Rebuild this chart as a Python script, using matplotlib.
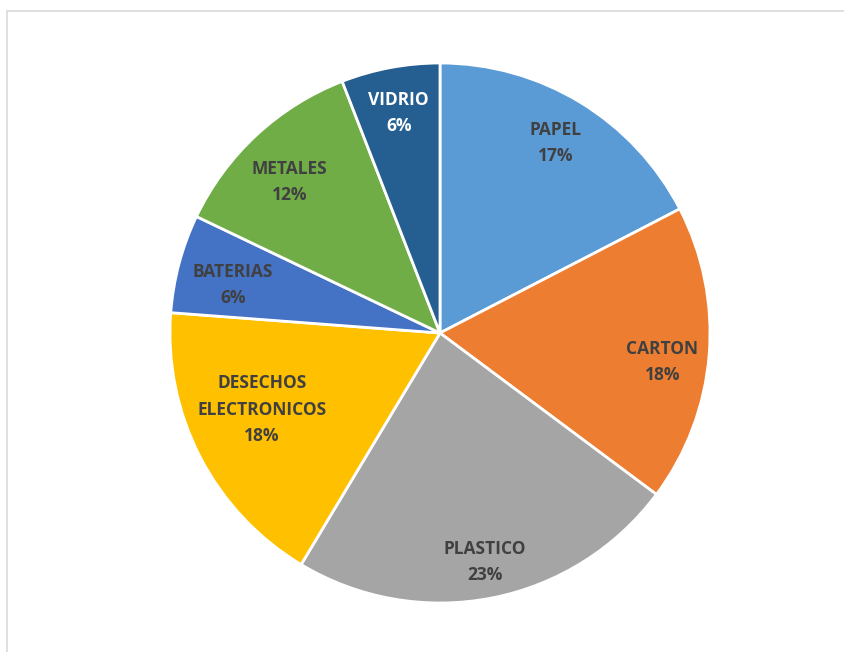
import matplotlib.pyplot as plt
from matplotlib.patches import Rectangle
import numpy as np

categories = ['PAPEL', 'CARTON', 'PLASTICO', 'DESECHOS\nELECTRONICOS', 'BATERIAS', 'METALES', 'VIDRIO']
values = [17.4, 17.8, 23.4, 17.6, 5.9, 12.0, 5.9]
colors = ['#5B9BD5', '#ED7D31', '#A5A5A5', '#FFC000', '#4472C4', '#70AD47', '#255E91']
text_colors = ['#404040'] * 6 + ['white']
# label placement: fraction of radius and angular nudge (deg, clockwise)
label_r = [0.823, 0.83, 0.865, 0.718, 0.787, 0.79, 0.83]
label_shift = [0, 2.7, 0, 4, -1.9, -2, 0]

W, H = 845, 652
fig = plt.figure(figsize=(W / 100, H / 100), dpi=100)
fig.patches.append(Rectangle((7.5 / W, -0.1), 1.1, (H - 10.5) / H + 0.1,
                             transform=fig.transFigure, fill=False,
                             edgecolor='#D9D9D9', linewidth=1.2))

cx, cy, r = 440, 333, 270
ax = fig.add_axes([(cx - r) / W, (H - cy - r) / H, 2 * r / W, 2 * r / H])
wedges, _ = ax.pie(values, colors=colors, startangle=90, counterclock=False,
                   wedgeprops=dict(edgecolor='white', linewidth=2))
ax.set_xlim(-1, 1)
ax.set_ylim(-1, 1)
ax.set_aspect('equal')

total = sum(values)
for w, name, v, tc, lr, sh in zip(wedges, categories, values, text_colors, label_r, label_shift):
    ang = np.deg2rad((w.theta1 + w.theta2) / 2 - sh)
    ax.text(lr * np.cos(ang), lr * np.sin(ang), f'{name}\n{round(v / total * 100)}%',
            ha='center', va='center', color=tc, fontsize=12.5, fontweight='bold',
            family='Open Sans', linespacing=1.6)

fig.savefig('out.png', dpi=100)
